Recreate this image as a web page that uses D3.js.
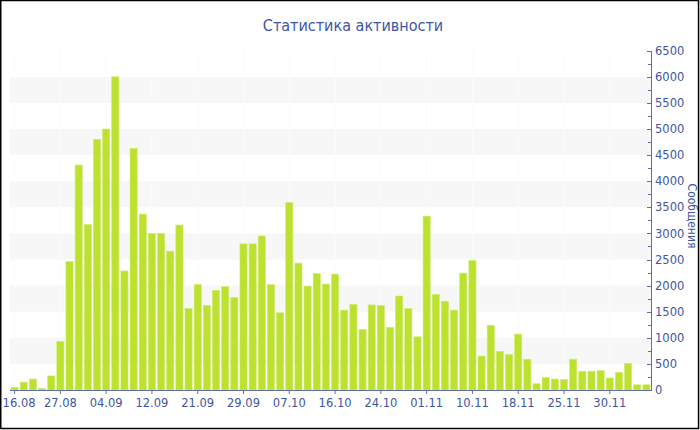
<!DOCTYPE html>
<html>
<head>
<meta charset="utf-8">
<script src="https://cdn.jsdelivr.net/npm/d3@7/dist/d3.min.js"></script>
<style>
html,body{margin:0;padding:0;background:#fff;}
svg{display:block;}
</style>
</head>
<body>
<svg id="chart" width="700" height="430"></svg>
<script>
// ---- data ----
const values = [
  50, 150, 210, 30, 270, 930, 2460, 4310, 3170, 4800,
  5000, 6000, 2280, 4630, 3370, 3000, 3000, 2660, 3160, 1560,
  2020, 1620, 1910, 1980, 1770, 2800, 2800, 2950, 2020, 1480,
  3590, 2430, 1990, 2230, 2030, 2220, 1530, 1640, 1160, 1630,
  1620, 1200, 1800, 1560, 1020, 3330, 1830, 1700, 1530, 2240,
  2480, 650, 1240, 740, 680, 1070, 590, 120, 240, 210,
  200, 590, 360, 360, 370, 230, 340, 510, 100, 100
];
const tickLabels = ["16.08","27.08","04.09","12.09","21.09","29.09","07.10","16.10","24.10","01.11","10.11","18.11","25.11","30.11"];
const tickEvery = 5;
const yTicks = [0,500,1000,1500,2000,2500,3000,3500,4000,4500,5000,5500,6000,6500];
const titleText = "Статистика активности";
const yTitleText = "Сообщения";

// ---- layout ----
const svg = d3.select("#chart");
const pLeft = 10, pRight = 651, pTop = 50.7, pBottom = 390;
const textColor = "#3e56a4", axisColor = "#5f6fae";
const barColor = "#bde12f";

const categories = d3.range(values.length);
const x = d3.scaleBand().domain(categories).range([pLeft, pRight]).paddingInner(0.22).paddingOuter(0.11);
const y = d3.scaleLinear().domain([0, 6500]).range([pBottom, pTop]);

// alternating bands
const bandStarts = yTicks.filter((v, i) => i % 2 === 1 && v < 6500);
svg.append("g").selectAll("rect").data(bandStarts).join("rect")
  .attr("x", pLeft).attr("width", pRight - pLeft)
  .attr("y", d => y(d + 500)).attr("height", d => y(d) - y(d + 500))
  .attr("fill", "#f7f7f7");

// faint vertical grid
const tickIdx = tickLabels.map((t, i) => i * tickEvery);
svg.append("g").selectAll("line").data(tickIdx).join("line")
  .attr("x1", d => x(d) + x.bandwidth() / 2).attr("x2", d => x(d) + x.bandwidth() / 2)
  .attr("y1", pTop).attr("y2", pBottom)
  .attr("stroke", "#fbfbfb").attr("stroke-width", 1);

// bars
svg.append("g").selectAll("rect").data(values).join("rect")
  .attr("x", (d, i) => x(i)).attr("width", x.bandwidth())
  .attr("y", d => y(d)).attr("height", d => pBottom - y(d))
  .attr("fill", barColor)
  .attr("stroke", "#cfeb6a").attr("stroke-width", 0.6);

// x axis
const xAxis = d3.axisBottom(x)
  .tickValues(tickIdx)
  .tickFormat((d, i) => tickLabels[i])
  .tickSize(4).tickSizeOuter(0);
const gx = svg.append("g").attr("transform", `translate(0,${pBottom})`).call(xAxis);
gx.select(".domain").attr("stroke", axisColor).attr("d", `M${pLeft},0.5H${pRight}`);
gx.selectAll(".tick line").attr("stroke", axisColor);
gx.selectAll(".tick text").attr("fill", textColor).attr("font-family", "DejaVu Sans").attr("font-size", 11.5).attr("dy", "0.85em");
// keep the first label inside the frame
gx.selectAll(".tick text").filter((d, i) => i === 0).attr("dx", 4.5);

// y axis (right)
const yAxis = d3.axisRight(y).tickValues(yTicks).tickFormat(d3.format("d")).tickSize(0).tickPadding(4);
const gy = svg.append("g").attr("transform", `translate(${pRight},0)`).call(yAxis);
gy.select(".domain").attr("stroke", axisColor);
gy.selectAll(".tick text").attr("fill", textColor).attr("font-family", "DejaVu Sans").attr("font-size", 11.5);
// major tick marks
svg.append("g").selectAll("line").data(yTicks).join("line")
  .attr("x1", pRight - 4).attr("x2", pRight + 1)
  .attr("y1", d => Math.round(y(d)) + 0.5).attr("y2", d => Math.round(y(d)) + 0.5)
  .attr("stroke", axisColor);
// minor tick marks
const minor = d3.range(250, 6500, 500);
svg.append("g").selectAll("line").data(minor).join("line")
  .attr("x1", pRight - 3).attr("x2", pRight)
  .attr("y1", d => Math.round(y(d)) + 0.5).attr("y2", d => Math.round(y(d)) + 0.5)
  .attr("stroke", axisColor);

// title
svg.append("text").attr("x", 353).attr("y", 31)
  .attr("text-anchor", "middle")
  .attr("font-family", "DejaVu Sans Condensed, DejaVu Sans").attr("font-size", 16)
  .attr("fill", textColor).text(titleText);

// y axis title
svg.append("text").attr("transform", `translate(687.5,216) rotate(90)`)
  .attr("text-anchor", "middle")
  .attr("font-family", "DejaVu Sans Condensed, DejaVu Sans").attr("font-size", 12)
  .attr("fill", textColor).text(yTitleText);

// frame
svg.append("rect").attr("x", 0.75).attr("y", 0.5).attr("width", 697.8).attr("height", 428)
  .attr("fill", "none").attr("stroke", "#000").attr("stroke-width", 1.5);
</script>
</body>
</html>
